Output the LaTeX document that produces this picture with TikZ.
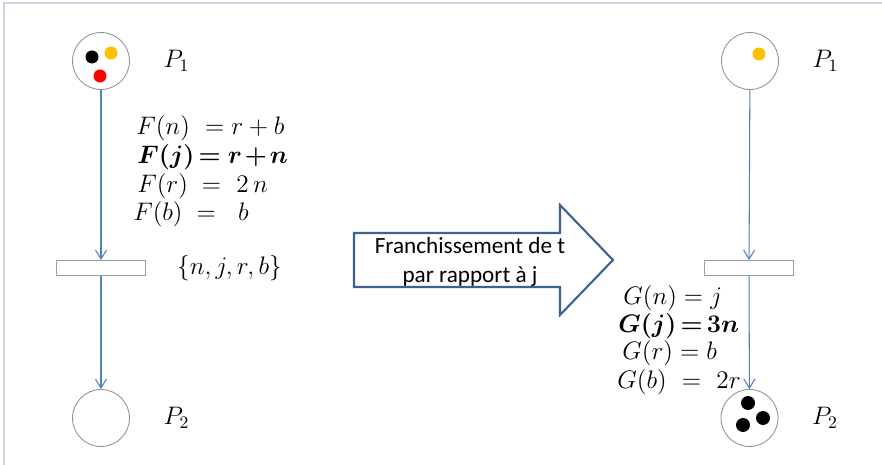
\documentclass[tikz,border=0pt]{standalone}
\usepackage{amsmath}
\usepackage{bm}
\usepackage[no-math]{fontspec}
\newfontfamily\calibri{Carlito}
\usepackage{tikz}
\usetikzlibrary{positioning,arrows.meta}
\definecolor{link}{RGB}{79,129,189}
\definecolor{bigarrow}{RGB}{60,98,145}
\definecolor{tokyellow}{RGB}{255,192,0}
\definecolor{frameC}{RGB}{206,210,226}

\begin{document}
\begin{tikzpicture}[x=0.02cm, y=-0.02cm,
  place/.style={draw=gray!85, line width=0.5pt, circle, minimum size=1.14cm, inner sep=0pt},
  trans/.style={draw=gray!75, line width=0.5pt, minimum width=1.78cm, minimum height=0.3cm, inner sep=0pt},
  arr/.style={-{Straight Barb[length=1.8mm,width=2.2mm]}, draw=link, line width=0.6pt},
  plabel/.style={font=\fontsize{14}{16}\selectfont},
  eq/.style={anchor=west, inner sep=0pt, font=\fontsize{14.3}{16}\selectfont},
  eqbold/.style={eq, font=\fontsize{13.6}{16}\selectfont},
  tok/.style={fill=#1},
]
\useasboundingbox (0,0) rectangle (882,465);
\draw[frameC, line width=0.7pt] (4,465) -- (4,3) -- (882,3);

% avant franchissement
\node[place] (p1L) at (101,61) {};
\node[plabel, right=0.55cm of p1L] (p1Lname) {$P_1$};
\node[trans] (tL) at (101,268) {};
\node[plabel, right=0.5cm of tL] (tLname) {$\{n,j,r,b\}$};
\node[place] (p2L) at (101,418) {};
\node[plabel, right=0.55cm of p2L] (p2Lname) {$P_2$};
\fill[tok=black] (92,57) circle (0.13cm);
\fill[tok=tokyellow] (111,53) circle (0.13cm);
\fill[tok=red] (100,76) circle (0.13cm);

\draw[arr] (p1L) -- (tL);
\draw[arr] (tL) -- (p2L);

\node[eq] (f1) at (136,128) {$F(n)\ = r + b$};
\node[eqbold] (f2) at (137,157) {$\bm{F(j)\mkern-2mu = r\mkern-2mu +\mkern-2mu n}$};
\node[eq] (f3) at (137,186) {$F(r)\; =\ 2\,n$};
\node[eq] (f4) at (133,214) {$F(b)\; =\ \;b$};

% fleche de franchissement
\draw[bigarrow, line width=1.2pt, fill=white]
  (354,233) -- (560,233) -- (560,205) -- (613,260) -- (560,315) -- (560,287) -- (354,287) -- cycle;
\node[font=\calibri\fontsize{13.2}{16.4}\selectfont, align=center] (fr) at (470,262)
  {Franchissement de t\\par rapport à j};

% apres franchissement
\node[place] (p1R) at (750,61) {};
\node[plabel, right=0.55cm of p1R] (p1Rname) {$P_1$};
\node[trans] (tR) at (749,268) {};
\node[place] (p2R) at (749.5,418) {};
\node[plabel, right=0.55cm of p2R] (p2Rname) {$P_2$};
\fill[tok=tokyellow] (759,54) circle (0.13cm);
\fill[tok=black] (748,403) circle (0.14cm);
\fill[tok=black] (763,418) circle (0.14cm);
\fill[tok=black] (743,425) circle (0.14cm);

\draw[arr] (p1R) -- (tR);
\draw[arr] (tR) -- (p2R);

\node[eq] (g1) at (623,298) {$G(n) = j$};
\node[eqbold] (g2) at (618,326) {$\bm{G(j)\mkern-2mu =\mkern-2mu 3n}$};
\node[eq] (g3) at (622,353) {$G(r) = b$};
\node[eq] (g4) at (617,382) {$G(b)\ =\ 2r$};
\end{tikzpicture}
\end{document}
